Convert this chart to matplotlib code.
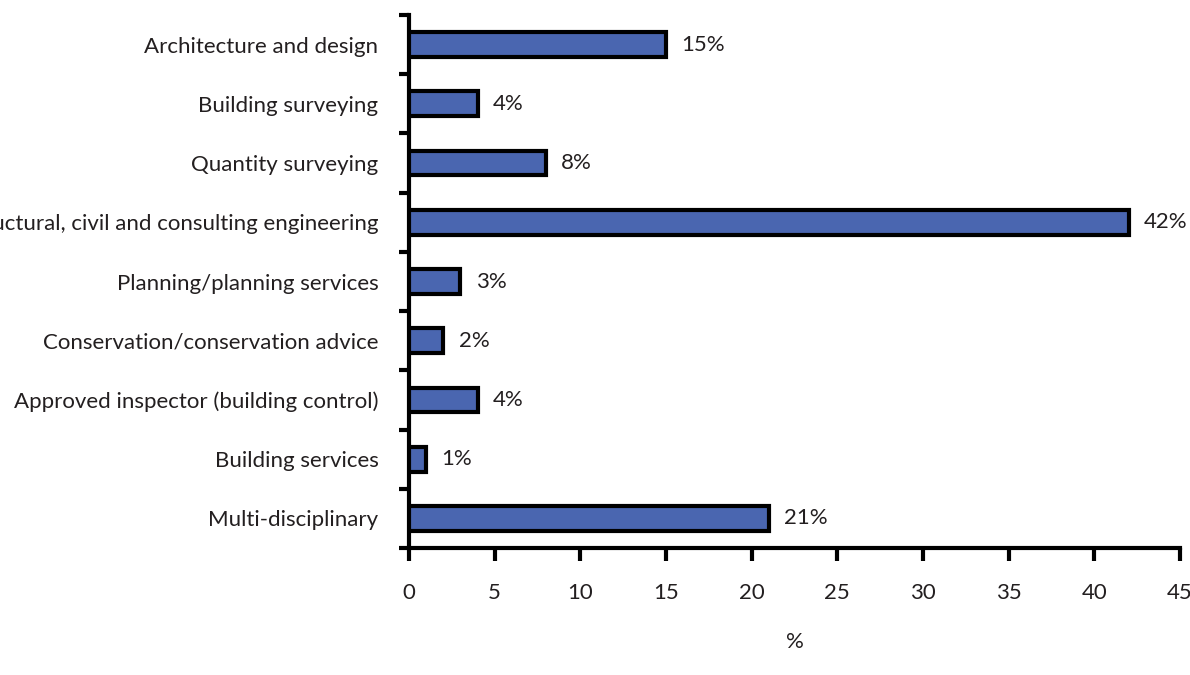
import numpy as np
import matplotlib
matplotlib.use('Agg')
import matplotlib.pyplot as plt

categories = [
    'Architecture and design',
    'Building surveying',
    'Quantity surveying',
    'Structural, civil and consulting engineering',
    'Planning/planning services',
    'Conservation/conservation advice',
    'Approved inspector (building control)',
    'Building services',
    'Multi-disciplinary',
]
shares = [15, 4, 8, 42, 3, 2, 4, 1, 21]
xticks = [0, 5, 10, 15, 20, 25, 30, 35, 40, 45]

plt.rcParams['font.family'] = ['Lato', 'DejaVu Sans']
TXT = '#231f20'
FS = 16

fig = plt.figure(figsize=(11.9, 6.75), dpi=100)
ax = fig.add_axes([409 / 1190, 1 - 548 / 675, (1180 - 409) / 1190, (548 - 15) / 675])

n = len(categories)
ypos = np.arange(n)
ax.barh(ypos, shares, height=0.42, color='#4a66b0', edgecolor='black', linewidth=3, zorder=3)

# value labels just right of each bar
for y, v in zip(ypos, shares):
    ax.annotate(f'{v}%', (v, y), xytext=(11, 0), textcoords='offset points',
                va='center', ha='left', fontsize=FS, color=TXT)

ax.set_xlim(0, 45)
ax.set_ylim(n - 0.5, -0.5)
ax.set_xticks(xticks)
ax.set_xticklabels([str(t) for t in xticks], fontsize=FS, color=TXT)
ax.set_yticks(ypos)
ax.set_yticklabels(categories, fontsize=FS, color=TXT)
ax.tick_params(axis='y', length=0, pad=22)
# separator ticks between categories
ax.set_yticks(np.arange(n + 1) - 0.5, minor=True)
ax.tick_params(axis='y', which='minor', length=7, width=3, direction='out')
ax.tick_params(axis='x', length=9, width=3, direction='out', pad=16)

for s in ['top', 'right']:
    ax.spines[s].set_visible(False)
for s in ['left', 'bottom']:
    ax.spines[s].set_linewidth(3)

ax.set_xlabel('%', fontsize=FS, color=TXT, labelpad=21)

fig.savefig('out.png', dpi=100)
